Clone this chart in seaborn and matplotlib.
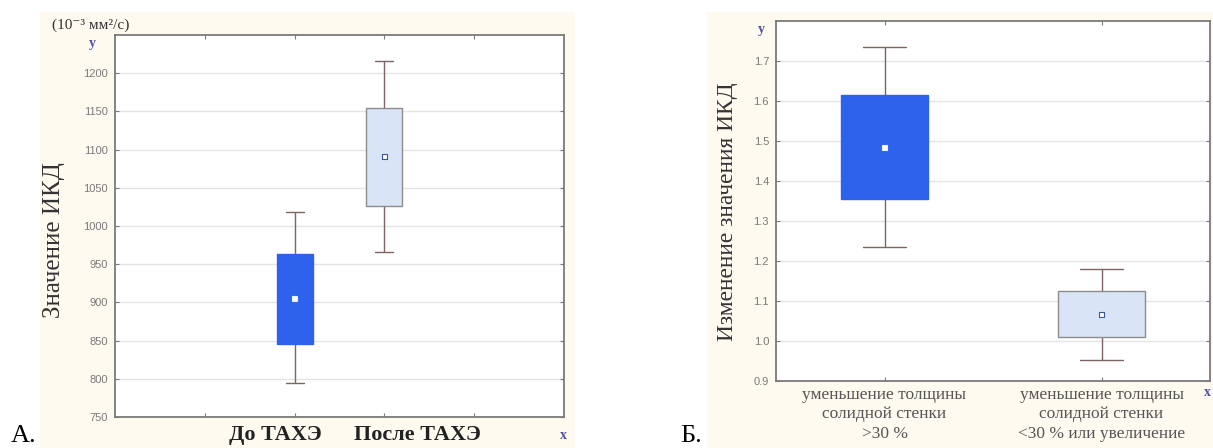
import pandas as pd
import matplotlib
matplotlib.use('Agg')
import matplotlib.pyplot as plt
import seaborn as sns
from matplotlib.patches import Rectangle

# Панель А: значение ИКД до и после ТАХЭ (ящик, усы, среднее)
groups_a = ['До ТАХЭ', 'После ТАХЭ']
pos_a = [2, 3]
low_a = [794, 966]
q1_a = [846, 1026]
mean_a = [905, 1091]
q3_a = [963, 1155]
high_a = [1018, 1216]
yticks_a = [750, 800, 850, 900, 950, 1000, 1050, 1100, 1150, 1200]

# Панель Б: изменение значения ИКД
groups_b = ['уменьшение толщины\nсолидной стенки\n>30 %',
            'уменьшение толщины\nсолидной стенки\n<30 % или увеличение']
pos_b = [0, 1]
low_b = [1.234, 0.953]
q1_b = [1.356, 1.009]
mean_b = [1.484, 1.067]
q3_b = [1.615, 1.124]
high_b = [1.736, 1.180]
yticks_b = [0.9, 1.0, 1.1, 1.2, 1.3, 1.4, 1.5, 1.6, 1.7]

DARK = '#2F62EC'
LIGHT = '#D9E5F7'
WHISK = '#7E6464'
FRAME = '#7A7A7A'
CREAM = '#FEFAF0'

sns.set_style('white')
plt.rcParams['font.family'] = ['Liberation Serif', 'DejaVu Serif']


def long_table(groups, pos, low, q1, mid, q3, high):
    # пять точек на группу: с whis=(0, 100) они дают ровно усы и квартили
    rows = []
    for i, g in enumerate(groups):
        for v in (low[i], q1[i], mid[i], q3[i], high[i]):
            rows.append({'group': g, 'pos': pos[i], 'value': v})
    return pd.DataFrame(rows)


def draw_boxes(ax, df, native):
    sns.boxplot(data=df, x='pos', y='value', hue='group', palette=[DARK, LIGHT],
                saturation=1, native_scale=native, width=0.4, whis=(0, 100),
                showfliers=False, legend=False, linewidth=1.0,
                medianprops={'visible': False}, ax=ax)
    for line in ax.lines:
        line.set_color(WHISK)
    edges = [DARK, '#8C8C8C']
    for patch, ec in zip(ax.patches, edges):
        patch.set_edgecolor(ec)
        patch.set_zorder(3)


def style_axes(ax, yticks, fmt):
    ax.set_yticks(yticks)
    ax.set_yticklabels([fmt.format(t) for t in yticks], family='Liberation Sans',
                       fontsize=8, color='#7A7A7A')
    ax.yaxis.grid(True, color='#E4E4E4', linewidth=1)
    ax.set_axisbelow(True)
    for s in ax.spines.values():
        s.set_visible(True)
        s.set_color(FRAME)
        s.set_linewidth(1.3)
    ax.tick_params(axis='both', which='major', direction='in', length=3, width=0.8,
                   color=FRAME, top=True, right=True, left=True, bottom=True)
    ax.tick_params(axis='y', pad=5)
    ax.set_xlabel('')


fig = plt.figure(figsize=(12.13, 4.48), dpi=100)
W, H = 1213, 448
fig.patches.append(Rectangle((40 / W, 0), 535 / W, 436 / H, transform=fig.transFigure,
                             facecolor=CREAM, edgecolor='none', zorder=-5))
fig.patches.append(Rectangle((707 / W, 0), 506 / W, 436 / H, transform=fig.transFigure,
                             facecolor=CREAM, edgecolor='none', zorder=-5))

ax_a = fig.add_axes([115 / W, 1 - 417 / H, 449 / W, 382 / H])
ax_b = fig.add_axes([776 / W, 1 - 381 / H, 434 / W, 360 / H])

# --- А ---
df_a = long_table(groups_a, pos_a, low_a, q1_a, mean_a, q3_a, high_a)
draw_boxes(ax_a, df_a, native=True)
sns.scatterplot(x=pos_a, y=mean_a, marker='s', s=11, color='white',
                edgecolor=['#E8ECFF', '#3A55A0'], linewidth=0.8, zorder=5, ax=ax_a)
ax_a.set_xlim(0, 5)
ax_a.set_ylim(750, 1250)
style_axes(ax_a, yticks_a, '{:.0f}')
ax_a.set_xticks([1, 2, 3, 4])
ax_a.set_xticklabels([])
ax_a.set_xticks([1.79, 3.37], minor=True)
ax_a.set_xticklabels(groups_a, minor=True, fontweight='bold', fontsize=16, color='#222222')
ax_a.tick_params(axis='x', which='minor', length=0, pad=6)
ax_a.set_ylabel('Значение ИКД', fontsize=18, color='#333333')
ax_a.yaxis.set_label_coords(-0.112, 0.463)

# --- Б ---
df_b = long_table(groups_b, pos_b, low_b, q1_b, mean_b, q3_b, high_b)
draw_boxes(ax_b, df_b, native=False)
sns.scatterplot(x=pos_b, y=mean_b, marker='s', s=11, color='white',
                edgecolor=['#E8ECFF', '#3A55A0'], linewidth=0.8, zorder=5, ax=ax_b)
ax_b.set_xlim(-0.5, 1.5)
ax_b.set_ylim(0.9, 1.8)
style_axes(ax_b, yticks_b, '{:.1f}')
ax_b.set_xticks(pos_b)
ax_b.set_xticklabels(groups_b, fontsize=12.5, color='#555555', linespacing=1.3)
ax_b.tick_params(axis='x', pad=4)
ax_b.set_ylabel('Изменение значения ИКД', fontsize=16.8, color='#333333')
ax_b.yaxis.set_label_coords(-0.088, 0.47)

# подписи осей в стиле Statistica
fig.text(52 / W, 1 - 25 / H, '(10⁻³ мм²/с)', fontsize=11, color='#333333',
         ha='left', va='center')
fig.text(92 / W, 1 - 43 / H, 'y', fontsize=10, fontweight='bold', color='#5050A0',
         ha='center', va='center')
fig.text(761 / W, 1 - 30 / H, 'y', fontsize=10, fontweight='bold', color='#5050A0',
         ha='center', va='center')
fig.text(563 / W, 1 - 435 / H, 'x', fontsize=10, fontweight='bold', color='#5050A0',
         ha='center', va='center')
fig.text(1207 / W, 1 - 392 / H, 'x', fontsize=10, fontweight='bold', color='#5050A0',
         ha='center', va='center')
fig.text(11 / W, 6 / H, 'А.', fontsize=19, color='black', ha='left', va='baseline')
fig.text(680 / W, 6 / H, 'Б.', fontsize=19, color='black', ha='left', va='baseline')

fig.savefig('out.png', dpi=100)
